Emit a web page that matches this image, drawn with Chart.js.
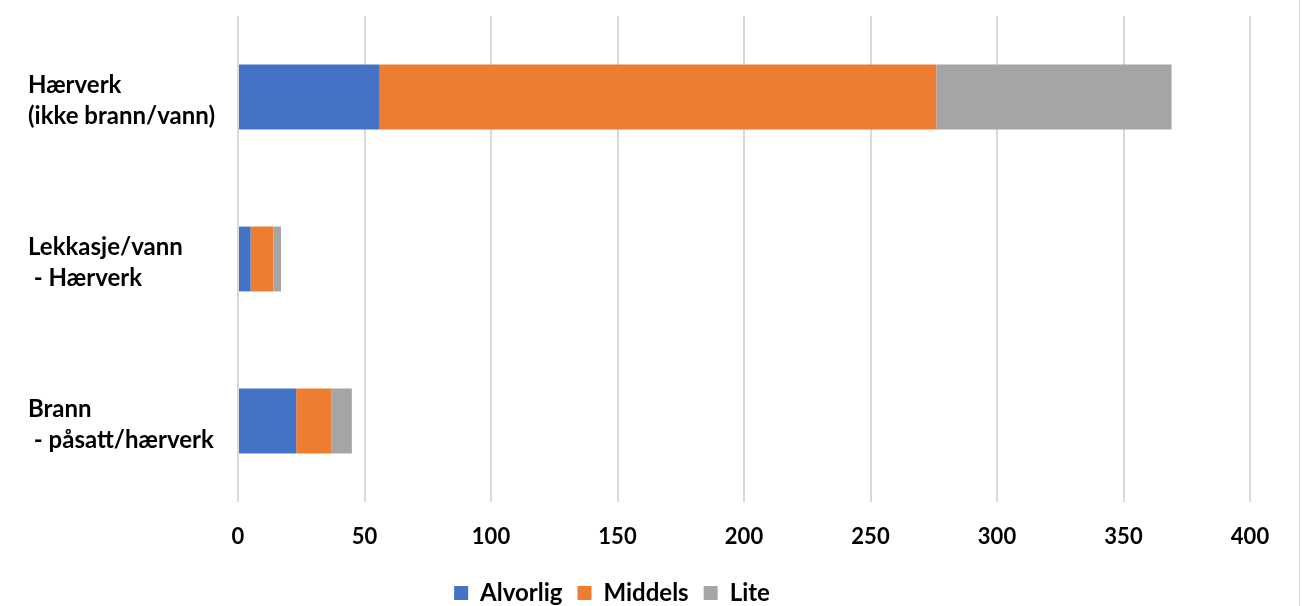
<!DOCTYPE html>
<html>
<head>
<meta charset="utf-8">
<script src="https://cdn.jsdelivr.net/npm/chart.js@4/dist/chart.umd.min.js"></script>
<style>
  html, body { margin: 0; padding: 0; background: #ffffff; }
  #wrap { position: relative; width: 1302px; height: 606px; }
  #frame { position: absolute; left: 1299px; top: 0; width: 1px; height: 606px; background: #d9d9d9; }
</style>
</head>
<body>
<div id="wrap">
  <canvas id="c" width="1302" height="606"></canvas>
  <div id="frame"></div>
</div>
<script>
const categories = [
  ["Hærverk", "(ikke brann/vann)"],
  ["Lekkasje/vann", " - Hærverk"],
  ["Brann", " - påsatt/hærverk"]
];
const seriesNames = ["Alvorlig", "Middels", "Lite"];
const alvorlig = [56, 5, 23];
const middels = [220, 9, 14];
const lite = [93, 3, 8];
const xTicks = [0, 50, 100, 150, 200, 250, 300, 350, 400];

const colors = ["#4472C4", "#ED7D31", "#A5A5A5"];
const FONT = "Lato";

const layoutFix = {
  id: 'layoutFix',
  beforeLayout(chart) {
    const lg = chart.legend;
    if (lg && !lg._patched) {
      const f = lg.fit;
      lg.fit = function () { f.call(this); this.height = 40; };
      lg._patched = true;
    }
  },
  afterLayout(chart) {
    const lg = chart.legend;
    if (lg) {
      const target = 612;
      const off = target - (lg.left + lg.right) / 2;
      lg.left += off; lg.right += off;
    }
  }
};

new Chart(document.getElementById('c'), {
  type: 'bar',
  data: {
    labels: categories,
    datasets: [
      { label: seriesNames[0], data: alvorlig, backgroundColor: colors[0] },
      { label: seriesNames[1], data: middels, backgroundColor: colors[1] },
      { label: seriesNames[2], data: lite, backgroundColor: colors[2] }
    ]
  },
  options: {
    indexAxis: 'y',
    responsive: false,
    animation: false,
    devicePixelRatio: 1,
    layout: { padding: { left: 28, right: 52, top: 16, bottom: 0 } },
    datasets: { bar: { categoryPercentage: 1, barPercentage: 0.4, borderWidth: 0 } },
    scales: {
      x: {
        stacked: true,
        min: 0, max: 400,
        afterBuildTicks(scale) { scale.ticks = xTicks.map(v => ({ value: v })); },
        afterFit(scale) { scale.height = 64; scale.paddingLeft = 0; scale.paddingRight = 0; },
        grid: { color: '#D9D9D9', lineWidth: 2, drawTicks: false },
        border: { display: false },
        ticks: { padding: 22, color: '#000000', font: { family: FONT, size: 22, weight: 'bold' } }
      },
      y: {
        stacked: true,
        afterFit(scale) { scale.width = 210; scale.paddingTop = 0; scale.paddingBottom = 0; },
        grid: { display: false, drawTicks: false },
        border: { display: false },
        ticks: {
          crossAlign: 'far',
          padding: 0,
          labelOffset: 4,
          color: '#000000',
          font: { family: FONT, size: 24, weight: 'bold', lineHeight: 1.27 }
        }
      }
    },
    plugins: {
      legend: {
        position: 'bottom',
        labels: {
          boxWidth: 14, boxHeight: 14, padding: 15,
          color: '#000000',
          font: { family: FONT, size: 24, weight: 'bold' }
        }
      },
      tooltip: { enabled: false }
    }
  },
  plugins: [layoutFix]
});
</script>
</body>
</html>
